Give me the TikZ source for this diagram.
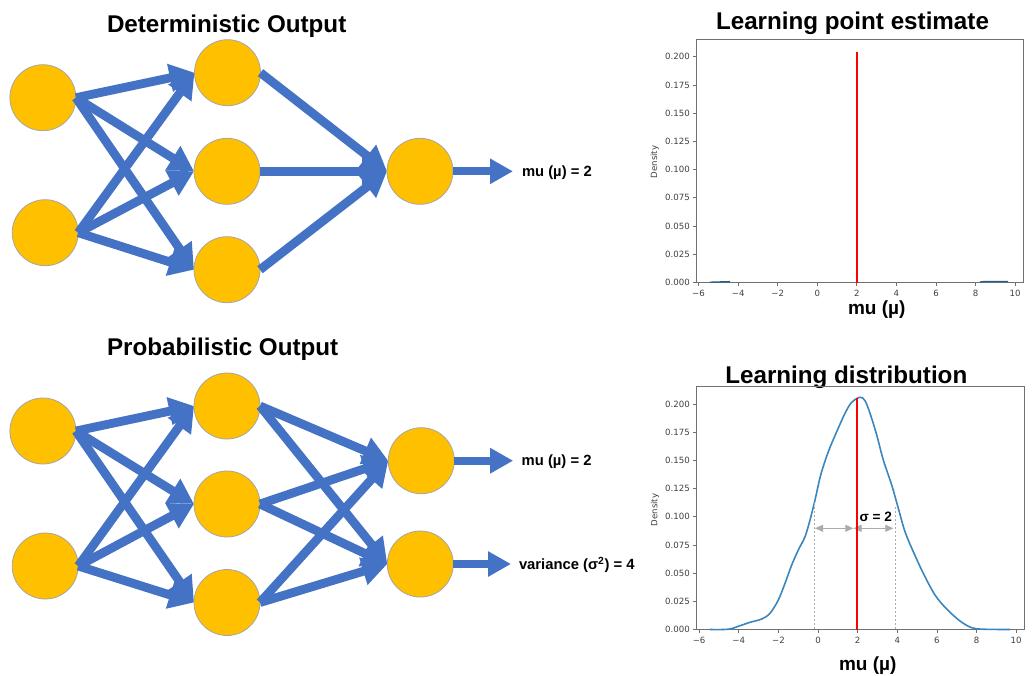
\documentclass[tikz,border=0pt]{standalone}
\usepackage{fontspec}
\setmainfont{Liberation Sans}
\newfontfamily\mplfont{DejaVu Sans}
\usetikzlibrary{arrows.meta}
\definecolor{netblue}{HTML}{4472C4}
\definecolor{netgold}{HTML}{FFC000}
\definecolor{netrim}{HTML}{A5A5A5}
\definecolor{kdeblue}{HTML}{3A87C0}
\definecolor{spine}{HTML}{707070}
\definecolor{ticktext}{HTML}{404040}
\definecolor{sigmagray}{HTML}{ABABAB}
\definecolor{purered}{HTML}{FF0000}
\tikzset{
  neuron/.style={circle,draw=netrim,line width=0.8pt,fill=netgold,minimum size=66pt,inner sep=0pt,outer sep=0pt},
  link/.style={draw=netblue,line width=8.8pt,-{Triangle[length=25pt,width=27pt]}},
  outlink/.style={draw=netblue,line width=8pt,-{Triangle[length=23pt,width=24pt]}},
  title/.style={anchor=base west,inner sep=0pt,outer sep=0pt,font=\fontsize{24.2}{28}\selectfont\bfseries},
  axislabel/.style={anchor=base west,inner sep=0pt,outer sep=0pt,font=\fontsize{19}{22}\selectfont\bfseries},
  outlabel/.style={anchor=base west,inner sep=0pt,outer sep=0pt,font=\fontsize{14.8}{18}\selectfont\bfseries},
  ticklabel/.style={inner sep=0pt,text=ticktext,font=\fontsize{8.6}{10}\selectfont\mplfont},
  spineline/.style={draw=spine,line width=1.1pt},
  redline/.style={draw=purered,line width=1.5pt},
  guide/.style={draw=sigmagray,line width=0.7pt,dash pattern=on 2.5pt off 1.5pt},
  sigmaspan/.style={draw=sigmagray,line width=0.9pt,{Triangle[length=8pt,width=7pt]}-{Triangle[length=8pt,width=7pt]}}
}
% #1 box left, #2 box top, #3 box right, #4 box bottom, #5 x of 0, #6 px per 2 units, #7 px per 0.025
\newcommand{\chartaxes}[7]{%
  \draw[spineline] (#1,#2) rectangle (#3,#4);
  \foreach \v/\t in {0/0.000,1/0.025,2/0.050,3/0.075,4/0.100,5/0.125,6/0.150,7/0.175,8/0.200}{
    \pgfmathsetmacro{\yy}{#4-\v*#7}
    \draw[spineline,line width=0.8pt] (#1,\yy) -- (#1-3.5,\yy);
    \node[ticklabel,anchor=east] at (#1-6.5,\yy) {\t};
  }
  \foreach \v/\t in {-3/−6,-2/−4,-1/−2,0/0,1/2,2/4,3/6,4/8,5/10}{
    \pgfmathsetmacro{\xx}{#5+\v*#6}
    \draw[spineline,line width=0.8pt] (\xx,#4) -- (\xx,#4+3.5);
    \node[ticklabel] at (\xx,#4+10.5) {\t};
  }
}
\begin{document}
\begin{tikzpicture}[x=1pt,y=-1pt]
\useasboundingbox[fill=white] (0,0) rectangle (1035,675);

% ---- top network
\node[neuron] (a1) at (42.9,97.7) {};
\node[neuron] (a2) at (45.2,232.7) {};
\node[neuron] (b1) at (227.5,72.7) {};
\node[neuron] (b2) at (227,171.3) {};
\node[neuron] (b3) at (227,269.7) {};
\node[neuron] (c1) at (420,171.3) {};
\node[outlabel] (tmu) at (522,176) {mu (µ) = 2};
\foreach \s in {a1,a2}\foreach \e in {b1,b2,b3}{\draw[link] (\s.east) -- (\e.west);}
\foreach \s in {b1,b2,b3}{\draw[link] (\s.east) -- (c1.west);}
\draw[outlink,shorten >=9pt] (c1.east) -- (c1.east -| tmu.west);

% ---- bottom network
\node[neuron] (d1) at (42.9,431) {};
\node[neuron] (d2) at (45.2,566) {};
\node[neuron] (e1) at (227,406) {};
\node[neuron] (e2) at (227,504) {};
\node[neuron] (e3) at (227,602.5) {};
\node[neuron] (f1) at (421.3,460.7) {};
\node[neuron] (f2) at (420.3,564) {};
\node[outlabel] (bmu) at (521.7,465) {mu (µ) = 2};
\node[outlabel] (bvar) at (519,569.3) {variance (σ\textsuperscript{2}) = 4};
\foreach \s in {d1,d2}\foreach \e in {e1,e2,e3}{\draw[link] (\s.east) -- (\e.west);}
\foreach \s in {e1,e2,e3}\foreach \e in {f1,f2}{\draw[link] (\s.east) -- (\e.west);}
\draw[outlink,shorten >=8.5pt] (f1.east) -- (f1.east -| bmu.west);
\draw[outlink,shorten >=8pt] (f2.east) -- (f2.east -| bvar.west);

% ---- titles
\node[title] at (107,32.7) {Deterministic Output};
\node[title] at (107,355) {Probabilistic Output};
\node[title] at (716,29.3) {Learning point estimate};
\node[title] at (725.3,383) {Learning distribution};

% ---- top chart
\chartaxes{696.5}{39.5}{1023.5}{282.5}{817.3}{39.58}{28.22}
\draw[line width=1.3pt,draw=kdeblue!70!black] (710,282.2) -- (730,281.6);
\draw[line width=1.3pt,draw=kdeblue!70!black] (980,282) .. controls (982,281.6) and (985,281.4) .. (990,281.4) -- (1008,281.6);
\draw[redline] (856.8,51.7) -- (856.8,282.5);
\node[ticklabel,rotate=90] at (654.7,162) {Density};
\node[axislabel] at (848,314) {mu (µ)};

% ---- bottom chart
\chartaxes{696.5}{386.5}{1024.5}{629.5}{818}{39.63}{28.2}
\draw[kdeblue,line width=1.6pt] plot[smooth,tension=0.55] coordinates {
 (710,629.5)(728.3,629.2)(740,625.7)(750,622.3)(761.7,619)(770,613.3)(778.3,600)(785,583.3)(791.7,565)(798.3,550)
 (805,536.7)(810,520)(815,500)(820.7,475)(828.3,451.7)(836.7,431.7)(845,413.3)(851.7,402.3)(860,397.3)(865,400.7)
 (870,413.3)(876.7,435)(883.3,460)(891.7,485)(898.3,508.3)(905,531.7)(913.3,551.7)(923.3,573.3)(935,595)(946.7,609)
 (960,621)(971.7,627.7)(983.3,629.2)(1010,629.5)};
\draw[guide] (814.3,629) -- (814.3,503);
\draw[guide] (895.7,629) -- (895.7,506.7);
\draw[sigmaspan] (815,528.3) -- (853.3,528.3);
\draw[sigmaspan] (853.5,528.3) -- (893.3,528.3);
\draw[redline] (857,398) -- (857,629.5);
\node[ticklabel,rotate=90] at (655,510) {Density};
\node[anchor=base west,inner sep=0pt,font=\fontsize{13.6}{16}\selectfont\bfseries] at (859.3,521) {σ = 2};
\node[axislabel] at (839,670.7) {mu (µ)};
\end{tikzpicture}
\end{document}
